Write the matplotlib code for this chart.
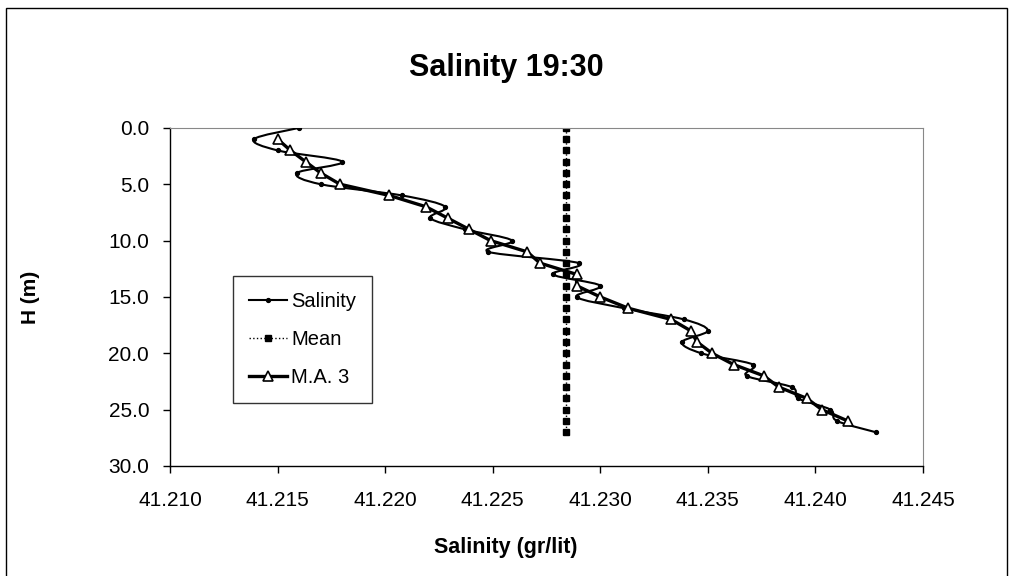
import matplotlib
matplotlib.use('Agg')
import numpy as np
import matplotlib.pyplot as plt
from matplotlib.lines import Line2D
from matplotlib.patches import Rectangle, PathPatch
from matplotlib.path import Path
from matplotlib.ticker import FormatStrFormatter

# ── Perfil de salinidad (medido cada 1 m) ─────────────────────────────────────
depth = list(range(0, 28))
salinity = [41.2160, 41.2139, 41.2150, 41.2180, 41.2159, 41.2170, 41.2208,
            41.2228, 41.2221, 41.2237, 41.2259, 41.2248, 41.2290, 41.2278,
            41.2300, 41.2289, 41.2311, 41.2339, 41.2350, 41.2338, 41.2347,
            41.2371, 41.2368, 41.2389, 41.2392, 41.2407, 41.2410, 41.2428]

# Media móvil de 3 puntos (profundidades 1..26)
ma_depth = list(range(1, 27))
ma3 = [41.2150, 41.2156, 41.2163, 41.2170, 41.2179, 41.2202, 41.2219,
       41.2229, 41.2239, 41.2249, 41.2266, 41.2272, 41.2289, 41.2289,
       41.2300, 41.2313, 41.2333, 41.2342, 41.2345, 41.2352, 41.2362,
       41.2376, 41.2383, 41.2396, 41.2403, 41.2415]

mean_salinity = 41.2284
mean_line = [mean_salinity] * len(depth)

plt.rcParams.update({
    'font.family': ['Liberation Sans', 'DejaVu Sans'],
    'font.size': 15,
})


def smooth_path(ax, xs, ys):
    """Curva suavizada tipo Excel (Bezier cúbica), en coordenadas de pantalla."""
    pts = ax.transData.transform(np.column_stack([xs, ys]))
    verts = [pts[0]]
    codes = [Path.MOVETO]
    n = len(pts)
    for i in range(n - 1):
        p0 = pts[max(i - 1, 0)]
        p1 = pts[i]
        p2 = pts[i + 1]
        p3 = pts[min(i + 2, n - 1)]
        c1 = p1 + (p2 - p0) / 6.0
        c2 = p2 - (p3 - p1) / 6.0
        verts += [c1, c2, p2]
        codes += [Path.CURVE4] * 3
    inv = ax.transData.inverted()
    return Path(inv.transform(np.array(verts)), codes)


fig = plt.figure(figsize=(10.12, 5.76), dpi=100)
ax = fig.add_axes([0.168, 0.191, 0.744, 0.587])

ax.set_xlim(41.210, 41.245)
ax.set_ylim(30, 0)

# Salinidad: línea suavizada + puntos
ax.add_patch(PathPatch(smooth_path(ax, salinity, depth), fill=False,
                       edgecolor='black', lw=1.5, zorder=3))
ax.plot(salinity, depth, ls='none', color='black', marker='o', ms=2.8,
        zorder=3)
ax.plot(mean_line, depth, color='black', lw=1.0, ls=':', marker='s',
        ms=5, zorder=2)
ax.plot(ma3, ma_depth, color='black', lw=2.4, marker='^', ms=6.5,
        mfc='white', mec='black', mew=1.2, zorder=4)

ax.set_xticks([41.210 + 0.005 * i for i in range(8)])
ax.set_yticks([0, 5, 10, 15, 20, 25, 30])
ax.xaxis.set_major_formatter(FormatStrFormatter('%.3f'))
ax.yaxis.set_major_formatter(FormatStrFormatter('%.1f'))
ax.tick_params(axis='both', direction='out', length=5, width=1,
               labelsize=15)
ax.tick_params(axis='x', pad=13)
ax.tick_params(axis='y', pad=10)

for side in ['top', 'right']:
    ax.spines[side].set_color('#888888')
    ax.spines[side].set_linewidth(0.8)
for side in ['left', 'bottom']:
    ax.spines[side].set_color('black')
    ax.spines[side].set_linewidth(1.0)

ax.set_ylabel('H (m)', fontsize=15, fontweight='bold')
ax.yaxis.set_label_coords(-0.173, 0.5)

fig.text(0.5, 0.882, 'Salinity 19:30', ha='center', va='center',
         fontsize=22, fontweight='bold')
fig.text(0.5, 0.049, 'Salinity (gr/lit)', ha='center', va='center',
         fontsize=15.5, fontweight='bold')

handles = [
    Line2D([], [], color='black', lw=1.5, marker='o', ms=2.8),
    Line2D([], [], color='black', lw=1.0, ls=':', marker='s', ms=5),
    Line2D([], [], color='black', lw=2.4, marker='^', ms=6.5,
           mfc='white', mec='black', mew=1.2),
]
leg = ax.legend(handles, ['Salinity', 'Mean', 'M.A. 3'], loc='upper left',
                bbox_to_anchor=(0.083, 0.563), frameon=True, fancybox=False,
                fontsize=14.5, handlelength=1.9, labelspacing=0.95,
                borderpad=0.8, handletextpad=0.2, borderaxespad=0)
leg.get_frame().set_edgecolor('black')
leg.get_frame().set_linewidth(1.0)

# marco del área del gráfico
fig.patches.append(Rectangle((6 / 1012, -0.01), 1001 / 1012, 1 - 8 / 576 + 0.01,
                             transform=fig.transFigure, fill=False,
                             edgecolor='black', lw=1.0))

fig.savefig('out.png', dpi=100)
